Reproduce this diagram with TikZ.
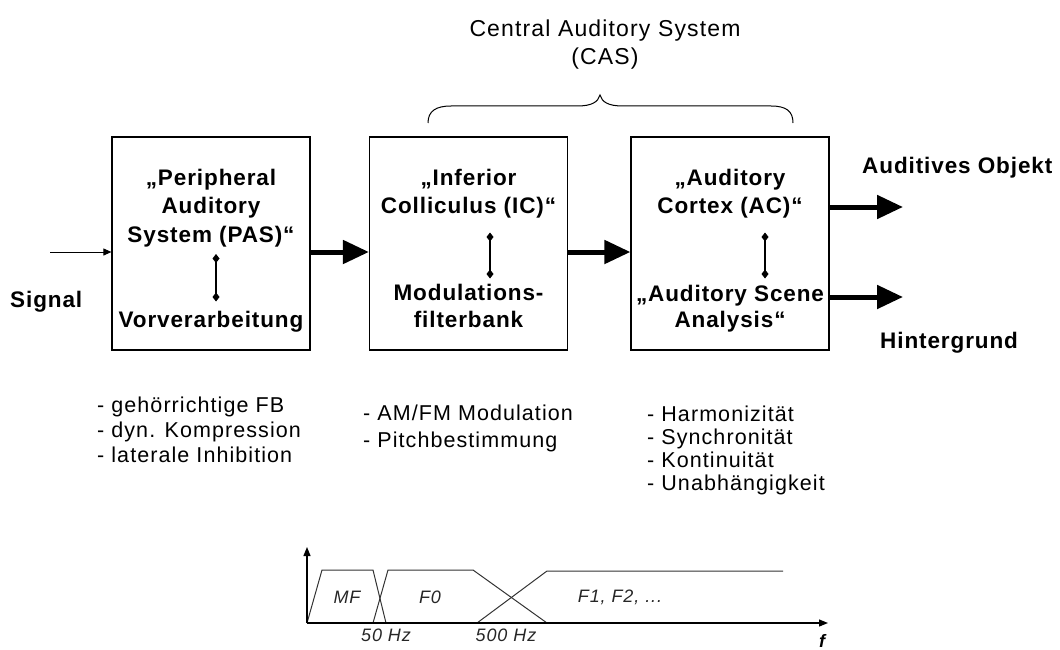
\documentclass[tikz,border=0pt]{standalone}
\usepackage{fontspec}
\setmainfont{Liberation Sans}
\newfontfamily\spacedfont[LetterSpace=5]{Liberation Sans}
\newfontfamily\spacedbold[LetterSpace=4]{Liberation Sans}
\usetikzlibrary{arrows.meta}
\begin{document}
\begin{tikzpicture}[x=1pt,y=-1pt,
  stage/.style={draw, line width=1.2pt, minimum width=198pt, minimum height=213pt, inner sep=0pt},
  boxtext/.style={anchor=base, inner sep=0pt, font=\spacedbold\bfseries\fontsize{22.5}{27}\selectfont},
  outlabel/.style={anchor=base west, inner sep=0pt, font=\spacedbold\bfseries\fontsize{22.5}{27}\selectfont},
  listtext/.style={anchor=base west, inner sep=0pt, font=\spacedfont\fontsize{21.5}{23}\selectfont},
  titletext/.style={anchor=base, inner sep=0pt, font=\spacedfont\fontsize{23}{27}\selectfont},
  charttext/.style={anchor=center, inner sep=0pt, text=black!85, font=\spacedfont\itshape\fontsize{18}{20}\selectfont},
  bigarrow/.style={line width=5pt, -{Triangle[length=26pt,width=23pt]}},
  thinarrow/.style={line width=1pt, -{Triangle[length=8pt,width=7pt]}},
  link/.style={line width=1.4pt, {Diamond[length=9pt,width=7pt]}-{Diamond[length=9pt,width=7pt]}},
  curve/.style={line width=1pt, draw=black!80},
  axisarrow/.style={line width=1.2pt, -{Triangle[length=9pt,width=7pt]}}
]
\useasboundingbox (0,0) rectangle (1060,650);

% title and brace over the central stages
\node[titletext] (castitle) at (605,37) {Central Auditory System};
\node[titletext] (casabbr) at (605,65) {(CAS)};
\draw[line width=1pt] (428,123) .. controls (428,111) and (436,106) .. (451,106) -- (577,106)
  .. controls (592,106) and (598,102) .. (600,95)
  .. controls (602,102) and (608,106) .. (623,106) -- (771,106)
  .. controls (786,106) and (793,111) .. (793,123);

% the three processing stages
\node[stage] (pas) at (211,243.5) {};
\node[stage] (ic)  at (468.5,243.5) {};
\node[stage] (ac)  at (730,243.5) {};

\node[boxtext] (pas1) at (211,185) {„Peripheral};
\node[boxtext] (pas2) at (211,213.5) {Auditory};
\node[boxtext] (pas3) at (211,242) {System (PAS)“};
\node[boxtext] (pas4) at (211,327) {Vorverarbeitung};

\node[boxtext] (ic1) at (468.5,185) {„Inferior};
\node[boxtext] (ic2) at (468.5,213.5) {Colliculus (IC)“};
\node[boxtext] (ic3) at (468.5,300) {Modulations-};
\node[boxtext] (ic4) at (468.5,327) {filterbank};

\node[boxtext] (ac1) at (730,185) {„Auditory};
\node[boxtext] (ac2) at (730,213.5) {Cortex (AC)“};
\node[boxtext] (ac3) at (730,301) {„Auditory Scene};
\node[boxtext] (ac4) at (730,327) {Analysis“};

% correspondence links inside the stages
\coordinate (pasA) at (216,254);
\coordinate (pasB) at (216,301.5);
\coordinate (icA) at (490,232.5);
\coordinate (icB) at (490,278.5);
\coordinate (acA) at (765,232.5);
\coordinate (acB) at (765,278.5);
\draw[link] (pasA) -- (pasB);
\draw[link] (icA) -- (icB);
\draw[link] (acA) -- (acB);

% signal flow
\coordinate (sig) at (50,252);
\node[outlabel] (signal) at (10,307) {Signal};
\draw[thinarrow] (sig) -- (pas.west |- sig);
\draw[bigarrow] (pas.east |- sig) -- (ic.west |- sig);
\draw[bigarrow] (ic.east |- sig) -- (ac.west |- sig);

\coordinate (objtip) at (903,207);
\coordinate (bgtip) at (903,297);
\draw[bigarrow] (ac.east |- objtip) -- (objtip);
\draw[bigarrow] (ac.east |- bgtip) -- (bgtip);
\node[outlabel] (objekt) at (862,173) {Auditives Objekt};
\node[outlabel] (hinter) at (880,348) {Hintergrund};

% feature lists
\node[listtext] (l1) at (97,412) {- gehörrichtige FB};
\node[listtext] (l2) at (97,437) {- dyn. Kompression};
\node[listtext] (l3) at (97,462) {- laterale Inhibition};

\node[listtext] (m1) at (363,420) {- AM/FM Modulation};
\node[listtext] (m2) at (363,447) {- Pitchbestimmung};

\node[listtext] (r1) at (647,421) {- Harmonizität};
\node[listtext] (r2) at (647,444) {- Synchronität};
\node[listtext] (r3) at (647,467) {- Kontinuität};
\node[listtext] (r4) at (647,490) {- Unabhängigkeit};

% frequency bands
\coordinate (origin) at (307,623);
\coordinate (xend) at (828,623);
\coordinate (yend) at (307,547);
\draw[curve] (origin) -- (322,570) -- (373,570) -- (386,623);
\draw[curve] (373,623) -- (388,570) -- (473,570) -- (547,623);
\draw[curve] (477,623) -- (547,571) -- (783,571);
\draw[axisarrow] (origin) -- (xend);
\draw[axisarrow] (origin) -- (yend);

\node[charttext] (mf) at (347,597) {MF};
\node[charttext] (f0) at (430,597) {F0};
\node[charttext] (f12) at (620,597) {F1, F2, ...};
\node[charttext] (hz50) at (386,635) {50 Hz};
\node[charttext] (hz500) at (506,635) {500 Hz};
\node[anchor=center, inner sep=0pt, font=\bfseries\itshape\fontsize{18}{20}\selectfont] (flabel) at (822,641) {f};
\end{tikzpicture}
\end{document}
